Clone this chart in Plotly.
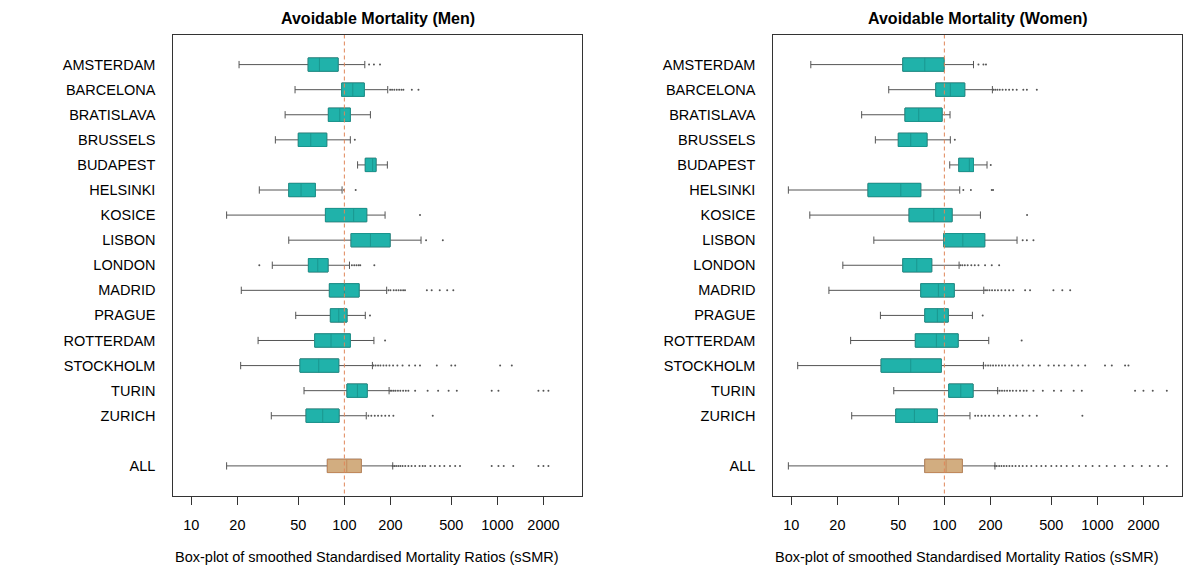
import plotly.graph_objects as go

# ---------------- data ----------------
cities = ["AMSTERDAM", "BARCELONA", "BRATISLAVA", "BRUSSELS", "BUDAPEST", "HELSINKI",
          "KOSICE", "LISBON", "LONDON", "MADRID", "PRAGUE", "ROTTERDAM", "STOCKHOLM",
          "TURIN", "ZURICH", "ALL"]
positions = [1, 2, 3, 4, 5, 6, 7, 8, 9, 10, 11, 12, 13, 14, 15, 17]

men_low = [20.5, 47.6, 41, 35.4, 122, 27.8, 17.0, 43.3, 33.8, 21.2, 48.1, 27.3, 21.0, 54.5, 33.3, 17.0]
men_q1 = [58, 96, 78.6, 50, 137, 43.3, 75.2, 110.6, 58.2, 79.8, 81, 64, 51.3, 104, 56.2, 77.4]
men_med = [68.7, 113.5, 93.3, 60.3, 153, 52.1, 115, 148, 67, 100, 91.9, 81.8, 68, 121.7, 72.2, 103.7]
men_q3 = [91, 135, 109.4, 76.7, 161, 64.6, 140, 199, 78.2, 124.8, 104, 109.4, 91.9, 141, 92.3, 129]
men_high = [136, 192, 148, 109.4, 191, 96.6, 184.5, 317, 108, 189, 137, 156, 152.5, 196, 139, 207]

men_out = {
    "AMSTERDAM": [145, 156, 171],
    "BARCELONA": [199, 205, 212, 220, 228, 236, 243, 276, 305],
    "BRATISLAVA": [],
    "BRUSSELS": [117],
    "BUDAPEST": [],
    "HELSINKI": [99.5, 118.6],
    "KOSICE": [312],
    "LISBON": [342, 440],
    "LONDON": [27.8, 112, 116, 120, 124, 127, 157],
    "MADRID": [194, 200, 210, 218, 226, 234, 242, 249, 346, 372, 420, 470, 515],
    "PRAGUE": [147],
    "ROTTERDAM": [184.5],
    "STOCKHOLM": [155, 160, 166, 172, 180, 188, 197, 208, 222, 240, 265, 290, 312, 402,
                  500, 530, 1042, 1242],
    "TURIN": [199, 204, 210, 216, 224, 232, 242, 252, 262, 290, 350, 410, 480, 543,
              918, 1016, 1854, 2000, 2155],
    "ZURICH": [143.5, 150, 158, 166, 175, 185, 196, 209, 378],
    "ALL": [207, 212, 218, 225, 232, 240, 250, 262, 275, 290, 310, 325, 337, 365, 390,
            420, 450, 490, 530, 570, 918, 1016, 1100, 1270, 1854, 2000, 2155],
}

women_low = [13.4, 43.3, 28.8, 35.4, 108.4, 9.56, 13.2, 34.6, 21.7, 17.6, 38.2, 24.4, 11.0, 46.7, 24.8, 9.56]
women_q1 = [53.5, 87.9, 55.3, 50, 124.2, 31.7, 58.8, 99, 53.5, 70.1, 74.5, 64.6, 38.6, 106.8, 48.1, 74.5]
women_med = [74.5, 109.4, 68, 60.3, 145.6, 51.9, 85.3, 132, 66, 91.4, 90, 88.7, 60.3, 128, 63.7, 102.6]
women_q3 = [99.5, 135.9, 96.6, 77, 155, 70.1, 112.3, 183.6, 82.7, 116, 106, 123, 95.5, 154, 90, 131]
women_high = [155, 206, 108.9, 109.4, 190, 126, 172, 298.5, 124.8, 180.9, 152.5, 195, 180, 223, 147, 214]

women_out = {
    "AMSTERDAM": [167, 180, 187],
    "BARCELONA": [209, 215, 222, 230, 240, 252, 265, 280, 297, 328, 346, 402],
    "BRATISLAVA": [],
    "BRUSSELS": [117],
    "BUDAPEST": [201],
    "HELSINKI": [133, 149, 204, 208],
    "KOSICE": [347],
    "LISBON": [325, 346, 382],
    "LONDON": [127, 131, 136, 142, 150, 158, 167, 184.5, 204, 228],
    "MADRID": [184.5, 190, 197, 205, 214, 224, 236, 250, 265, 282, 337, 363, 516, 590, 664],
    "PRAGUE": [178],
    "ROTTERDAM": [320],
    "STOCKHOLM": [180, 186, 193, 200, 208, 217, 227, 238, 250, 265, 282, 300, 325, 355,
                  385, 421, 479, 520, 560, 610, 680, 750, 832, 1122, 1242, 1517, 1596],
    "TURIN": [223, 230, 238, 247, 257, 268, 280, 295, 312, 330, 345, 382, 440, 520, 580,
              700, 791, 1763, 2000, 2300, 2844],
    "ZURICH": [159, 166, 175, 185, 196, 210, 226, 245, 268, 295, 325, 360, 402, 798],
    "ALL": [214, 220, 228, 236, 245, 255, 266, 278, 292, 308, 325, 345, 370, 400, 430,
            460, 500, 540, 580, 630, 690, 760, 840, 930, 1030, 1150, 1300, 1500, 1700,
            1950, 2200, 2500, 2844],
}

x_tickvals = [10, 20, 50, 100, 200, 500, 1000, 2000]
x_ticktext = ["10", "20", "50", "100", "200", "500", "1000", "2000"]
ref_value = 100

titles = ["Avoidable Mortality (Men)", "Avoidable Mortality (Women)"]
x_title = "Box-plot of smoothed Standardised Mortality Ratios (sSMR)"

# ---------------- style ----------------
FONT = "Liberation Sans, Arial, Helvetica, sans-serif"
TEAL = "#20B2AA"
TEAL_LINE = "#1A968F"
TAN = "#D2AD80"
TAN_LINE = "#C48A5C"
WHISK = "#555555"
REF_COLOR = "#E0875A"
BOXW = 0.53

fig = go.Figure()

panels = [
    (men_low, men_q1, men_med, men_q3, men_high, men_out, "x", "y"),
    (women_low, women_q1, women_med, women_q3, women_high, women_out, "x2", "y2"),
]

for low, q1, med, q3, high, outs, xa, ya in panels:
    # whiskers (gray)
    fig.add_trace(go.Box(
        y=positions, q1=q1, median=med, q3=q3, lowerfence=low, upperfence=high,
        orientation="h", width=BOXW, whiskerwidth=0.55,
        line=dict(color=WHISK, width=1), fillcolor="rgba(0,0,0,0)",
        boxpoints=False, xaxis=xa, yaxis=ya, showlegend=False, hoverinfo="skip"))
    # city boxes (teal)
    n = len(cities) - 1
    fig.add_trace(go.Box(
        y=positions[:n], q1=q1[:n], median=med[:n], q3=q3[:n],
        lowerfence=q1[:n], upperfence=q3[:n],
        orientation="h", width=BOXW, whiskerwidth=0,
        line=dict(color=TEAL_LINE, width=1), fillcolor=TEAL,
        boxpoints=False, xaxis=xa, yaxis=ya, showlegend=False, hoverinfo="skip"))
    # ALL box (tan)
    fig.add_trace(go.Box(
        y=positions[n:], q1=q1[n:], median=med[n:], q3=q3[n:],
        lowerfence=q1[n:], upperfence=q3[n:],
        orientation="h", width=BOXW, whiskerwidth=0,
        line=dict(color=TAN_LINE, width=1), fillcolor=TAN,
        boxpoints=False, xaxis=xa, yaxis=ya, showlegend=False, hoverinfo="skip"))
    # outliers
    ox, oy = [], []
    for c, p in zip(cities, positions):
        for v in outs[c]:
            ox.append(v)
            oy.append(p)
    fig.add_trace(go.Scatter(
        x=ox, y=oy, mode="markers",
        marker=dict(size=2, color="#555555"),
        xaxis=xa, yaxis=ya, showlegend=False, hoverinfo="skip"))
    # reference line
    fig.add_trace(go.Scatter(
        x=[ref_value, ref_value], y=[-0.2, 18.2], mode="lines",
        line=dict(color=REF_COLOR, width=1, dash="4px,3px"),
        xaxis=xa, yaxis=ya, showlegend=False, hoverinfo="skip"))

W, H = 1200, 583
OFF = 8  # page body margin offset
xdoms = [[(173.3 - OFF) / W, (582 - OFF) / W], [(773.3 - OFF) / W, (1182 - OFF) / W]]
ydom = [1 - (496 - OFF) / H, 1 - (34.5 - OFF) / H]

xax = dict(type="log", range=[0.882, 3.553], tickvals=x_tickvals, ticktext=x_ticktext,
           ticks="outside", ticklen=8, tickcolor="#333", tickwidth=1,
           showline=True, mirror=True, linecolor="#333", linewidth=1,
           showgrid=False, zeroline=False, ticklabelstandoff=8,
           tickfont=dict(family=FONT, size=14.5, color="black"))
yax = dict(range=[18.2, -0.2], tickvals=positions, ticktext=cities, ticks="",
           showline=True, mirror=True, linecolor="#333", linewidth=1,
           showgrid=False, zeroline=False, ticklabelstandoff=14,
           tickfont=dict(family=FONT, size=14.5, color="black"))

annotations = []
for i in range(2):
    annotations.append(dict(
        text="<b>" + titles[i] + "</b>", x=(xdoms[i][0] + xdoms[i][1]) / 2,
        y=1 - (19 - OFF) / H,
        xref="paper", yref="paper", xanchor="center", yanchor="middle", showarrow=False,
        font=dict(family=FONT, size=16, color="black")))
    annotations.append(dict(
        text=x_title, x=xdoms[i][0], y=1 - (557 - OFF) / H,
        xref="paper", yref="paper", xanchor="left", yanchor="middle", showarrow=False,
        font=dict(family=FONT, size=14.5, color="black")))

fig.update_layout(
    width=W, height=H, margin=dict(l=0, r=0, t=0, b=0),
    paper_bgcolor="white", plot_bgcolor="white",
    boxmode="overlay", showlegend=False,
    xaxis=dict(domain=xdoms[0], anchor="y", **xax),
    yaxis=dict(domain=ydom, anchor="x", **yax),
    xaxis2=dict(domain=xdoms[1], anchor="y2", **xax),
    yaxis2=dict(domain=ydom, anchor="x2", **yax),
    annotations=annotations,
    font=dict(family=FONT, size=14, color="black"),
)

fig.write_html("out.html")
